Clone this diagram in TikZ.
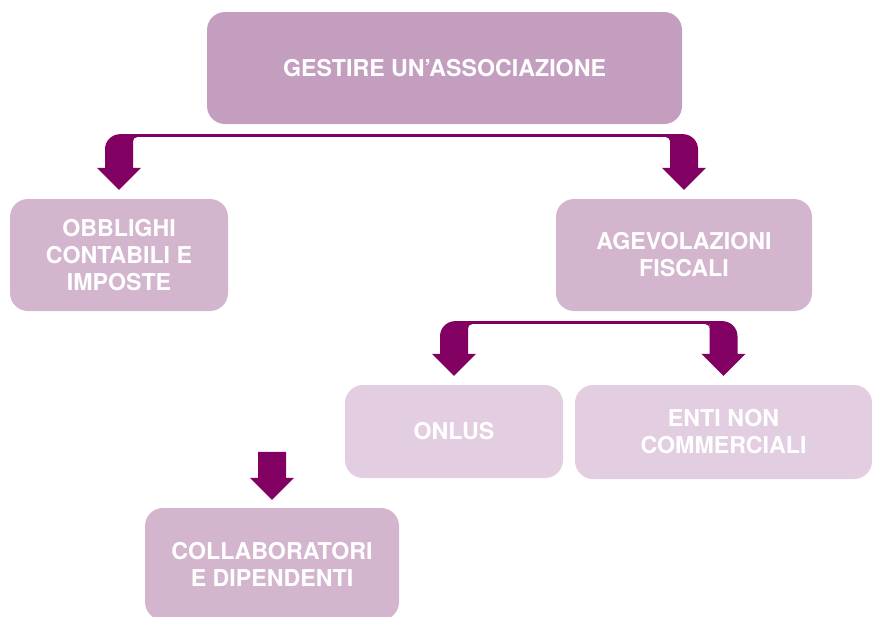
\documentclass[tikz,border=0pt]{standalone}
\usepackage{fontspec}
\setmainfont{TeX Gyre Heros}
\usepackage{tikz}
\usetikzlibrary{calc}
\definecolor{cPlum}{HTML}{C49EBE}
\definecolor{cMauve}{HTML}{D3B5CD}
\definecolor{cLilac}{HTML}{E2CEE0}
\definecolor{cWine}{HTML}{820062}
\tikzset{
  mbox/.style={fill=#1,rounded corners=18pt,align=center,text=white,inner sep=0pt,
    font=\fontsize{23.2}{27}\selectfont\bfseries},
  mbox/.default=cMauve,
  conn/.style={fill=cWine},
}
% #1 junction coordinate, #2 left child, #3 right child
\newcommand{\branch}[3]{%
  \fill[conn] (#2.north |- #1) rectangle ($(#3.north |- #1)+(0,-3)$);
  \fill[conn] ($(#2.north |- #1)+(14,0)$) -- ($(#2.north)+(14,31)$) -- ($(#2.north)+(22,31)$)
    -- ($(#2.north)+(0,9)$) -- ($(#2.north)+(-22,31)$) -- ($(#2.north)+(-14,31)$)
    -- ($(#2.north |- #1)+(-14,-15)$) arc[start angle=180,end angle=90,radius=15pt] -- cycle;
  \fill[conn] ($(#3.north |- #1)+(-14,0)$) -- ($(#3.north |- #1)+(-1,0)$) arc[start angle=90,end angle=0,radius=15pt]
    -- ($(#3.north)+(14,31)$) -- ($(#3.north)+(22,31)$) -- ($(#3.north)+(0,9)$)
    -- ($(#3.north)+(-22,31)$) -- ($(#3.north)+(-14,31)$) -- cycle;
  \fill[conn] ($(#2.north |- #1)+(14,-3)$) -- ++(4,0) arc[start angle=90,end angle=180,radius=4pt] -- cycle;
  \fill[conn] ($(#3.north |- #1)+(-14,-3)$) -- ++(-4,0) arc[start angle=90,end angle=0,radius=4pt] -- cycle;
}

\begin{document}
\begin{tikzpicture}[x=1pt,y=1pt]
  \useasboundingbox (0,0) rectangle (872,-616);
  % boxes
  \node[mbox=cPlum,minimum width=475pt,minimum height=112pt] (assoc) at (444.5,-68) {GESTIRE UN’ASSOCIAZIONE};
  \node[mbox,minimum width=218pt,minimum height=112pt] (obbl) at (119,-255) {OBBLIGHI\\CONTABILI E\\IMPOSTE};
  \node[mbox,minimum width=256pt,minimum height=112pt] (agev) at (684,-255) {AGEVOLAZIONI\\FISCALI};
  \node[mbox=cLilac,minimum width=218pt,minimum height=93pt] (onlus) at (454,-431.5) {ONLUS};
  \node[mbox=cLilac,minimum width=297pt,minimum height=94pt] (enti) at (723.5,-432) {ENTI NON\\COMMERCIALI};
  \node[mbox,minimum width=254pt,minimum height=112pt] (collab) at (272,-564) {COLLABORATORI\\E DIPENDENTI};
  % connectors
  \coordinate (j1) at ($(assoc.south)+(0,-10)$);
  \coordinate (j2) at ($(agev.south)+(0,-10)$);
  \coordinate (c3) at ($(collab.north)+(0,56)$);
  \branch{j1}{obbl}{agev}
  \branch{j2}{onlus}{enti}
  \fill[conn] ($(c3)+(-14,0)$) -- ($(c3)+(14,0)$) -- ($(collab.north)+(14,30)$) -- ($(collab.north)+(22,30)$)
    -- ($(collab.north)+(0,8)$) -- ($(collab.north)+(-22,30)$) -- ($(collab.north)+(-14,30)$) -- cycle;
\end{tikzpicture}
\end{document}
